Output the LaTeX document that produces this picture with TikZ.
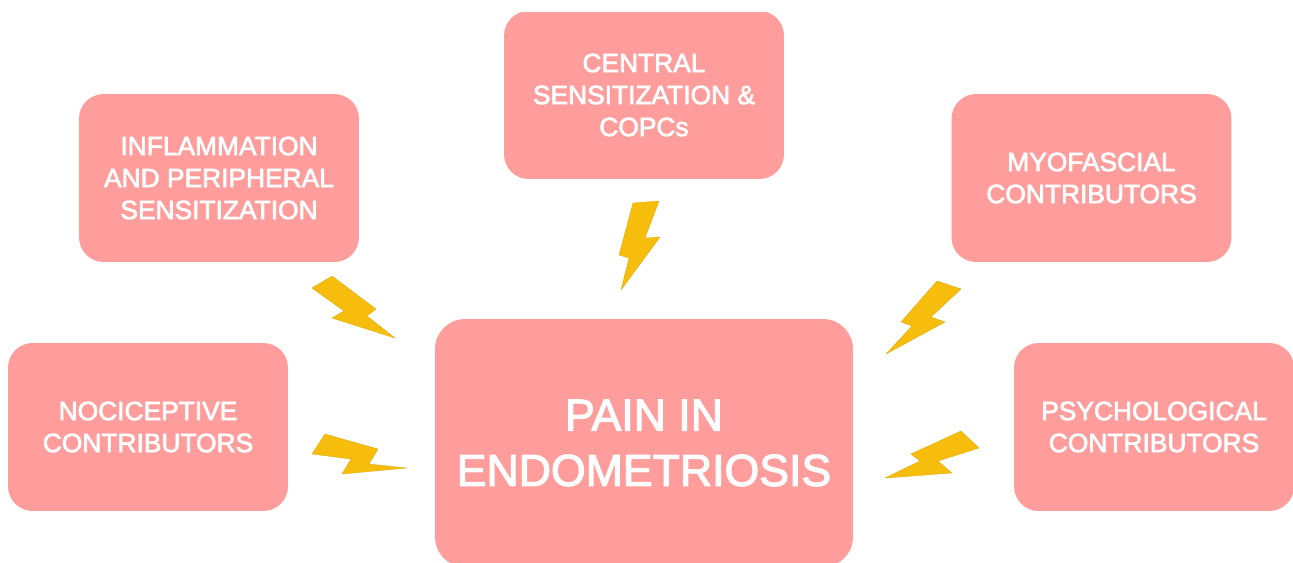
\documentclass[tikz,border=0pt]{standalone}
\usepackage{fontspec}
\setmainfont{Liberation Sans}[FakeBold=2.6]
\definecolor{painpink}{RGB}{255, 156, 156}
\definecolor{boltyellow}{RGB}{246, 189, 12}
\usetikzlibrary{positioning}

\begin{document}
\begin{tikzpicture}[
  x=0.02cm, y=-0.02cm,
  pbox/.style={fill=painpink, rounded corners=14pt, minimum width=5.6cm, minimum height=3.36cm, inner sep=0pt, align=center, text=white, font=\fontsize{15}{18.2}\selectfont},
  mainbox/.style={pbox, rounded corners=17pt, minimum width=8.36cm, minimum height=4.96cm, font=\fontsize{25.4}{31.5}\selectfont},
  bolt/.style={fill=boltyellow, draw=boltyellow!90!black, line width=0.2pt, line join=round}
]
  \useasboundingbox (0,0) rectangle (1293,562);
  % boxes
  \begin{scope}
    \clip (0,12) rectangle (1293,562);
    \node[pbox] (central) at (644,95) {CENTRAL\\SENSITIZATION \&\\COPCs};
    \node[mainbox] (pain) at (644,443) {PAIN IN\\ENDOMETRIOSIS};
  \end{scope}
  \node[pbox] (inflammation) at (219,178) {INFLAMMATION\\AND PERIPHERAL\\SENSITIZATION};
  \node[pbox] (myofascial) at (1091.5,178) {MYOFASCIAL\\CONTRIBUTORS};
  \node[pbox] (nociceptive) at (148,427) {NOCICEPTIVE\\CONTRIBUTORS};
  \node[pbox] (psychological) at (1154,427) {PSYCHOLOGICAL\\CONTRIBUTORS};
  % bolts
  \draw[bolt] (633,203) -- (659,201) -- (645,238) -- (660,237) -- (621,290) -- (629,258) -- (619,255) -- cycle;
  \draw[bolt] (312,288) -- (332,276) -- (376,309) -- (367,316) -- (395,338) -- (332,318) -- (344,311) -- cycle;
  \draw[bolt] (312,454) -- (325,434) -- (378,449) -- (369,464) -- (407,468) -- (342,474) -- (351,459) -- cycle;
  \draw[bolt] (937,281) -- (961,289) -- (931,317) -- (945,322) -- (886,354) -- (912,326) -- (901,322) -- cycle;
  \draw[bolt] (961,431) -- (979,448) -- (938,461) -- (952,473) -- (885,478) -- (920,461) -- (911,454) -- cycle;
\end{tikzpicture}
\end{document}
